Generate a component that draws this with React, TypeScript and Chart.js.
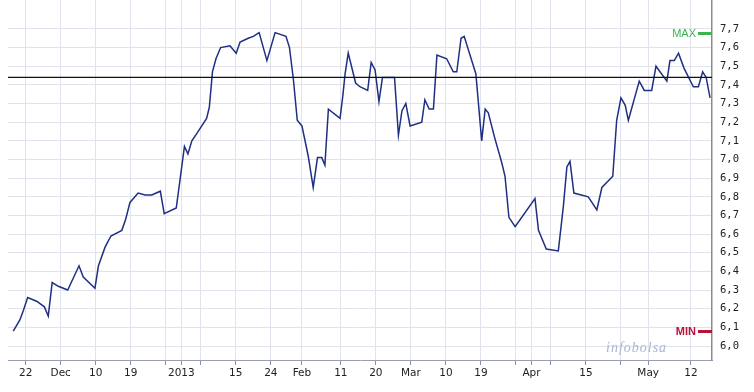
import React, { useEffect, useRef } from 'react';
import { Chart, registerables } from 'chart.js';

Chart.register(...registerables);

// Day offsets counted from 22 Nov 2012 (day 0)
const DAYS = [
  -3.2, -1.5, -0.6, 0.5, 2.8, 4.8, 5.8, 6.8, 8.4, 10.8, 13.7, 14.8, 17.8, 18.7, 20.4, 21.9,
  24.7, 25.7, 26.8, 28.9, 30.7, 32.4, 34.6, 35.6, 38.7, 40.8, 41.7, 42.7, 44.0, 46.5, 47.2,
  48.0, 48.9, 50.1, 52.5, 54.1, 55.1, 57.2, 58.5, 60.0, 62.0, 64.1, 66.9, 67.8, 68.8, 69.8,
  71.0, 72.6, 73.9, 75.0, 76.1, 76.9, 77.8, 80.8, 81.5, 82.1, 82.9, 84.8, 85.9, 87.9, 88.8,
  89.8, 90.8, 91.7, 93.6, 94.8, 95.8, 96.7, 97.7, 98.8, 101.8, 102.6, 103.7, 104.8, 105.7,
  108.2, 109.9, 110.8, 111.9, 112.7, 115.7, 116.5, 117.2, 118.1, 118.9, 120.5, 122.4, 123.2,
  124.2, 125.8, 130.9, 131.8, 133.8, 136.9, 138.2, 139.1, 139.9, 140.9, 144.6, 146.8, 148.1,
  150.9, 151.9, 153.0, 154.1, 154.9, 157.7, 159.0, 160.9, 162.0, 164.8, 165.6, 166.7, 167.8,
  169.2, 171.6, 172.9, 174.0, 174.9, 175.9,
];

const PRICES = [
  6.08, 6.14, 6.19, 6.26, 6.24, 6.21, 6.16, 6.34, 6.32, 6.30, 6.43, 6.37, 6.31, 6.43, 6.53, 6.59,
  6.62, 6.68, 6.77, 6.82, 6.81, 6.81, 6.83, 6.71, 6.74, 7.07, 7.03, 7.10, 7.14, 7.22, 7.28,
  7.47, 7.54, 7.60, 7.61, 7.57, 7.63, 7.65, 7.66, 7.68, 7.53, 7.68, 7.66, 7.60, 7.43, 7.21,
  7.18, 7.02, 6.85, 7.01, 7.01, 6.97, 7.27, 7.22, 7.34, 7.46, 7.57, 7.41, 7.39, 7.37, 7.52,
  7.48, 7.31, 7.44, 7.44, 7.44, 7.13, 7.26, 7.30, 7.18, 7.20, 7.32, 7.27, 7.27, 7.56,
  7.54, 7.47, 7.47, 7.65, 7.66, 7.46, 7.27, 7.10, 7.27, 7.25, 7.12, 6.98, 6.91,
  6.69, 6.64, 6.79, 6.62, 6.52, 6.51, 6.75, 6.96, 6.99, 6.82, 6.80, 6.73, 6.85,
  6.91, 7.21, 7.33, 7.29, 7.21, 7.42, 7.37, 7.37, 7.50, 7.42, 7.53, 7.53, 7.57,
  7.49, 7.39, 7.39, 7.47, 7.44, 7.33,
];

const X_TICK_DAYS = [0, 9, 18, 27, 36, 40, 45, 54, 63, 71, 81, 90, 99, 108, 117, 126, 130, 135, 144, 153, 160, 171];
const X_TICK_LABELS = ['22', 'Dec', '10', '19', '', '2013', '', '15', '24', 'Feb', '11', '20', 'Mar', '10', '19', '', 'Apr', '', '15', '', 'May', '12'];

const Y_TICKS = [6.0, 6.1, 6.2, 6.3, 6.4, 6.5, 6.6, 6.7, 6.8, 6.9, 7.0, 7.1, 7.2, 7.3, 7.4, 7.5, 7.6, 7.7];

const REF_LEVEL = 7.44;

const X_MIN = -4.55;
const X_MAX = 176.4;
const Y_MIN = 5.925;
const Y_MAX = 7.855;

export default function App() {
  const ref = useRef<HTMLCanvasElement>(null);

  useEffect(() => {
    const canvas = ref.current!;
    const maxVal = Math.max(...PRICES);
    const minVal = Math.min(...PRICES);

    const decorations = {
      id: 'decorations',
      beforeDatasetsDraw(chart: any) {
        const ctx = chart.ctx;
        const y = chart.scales.y;
        const area = chart.chartArea;
        ctx.save();
        ctx.font = 'italic 14px "Liberation Serif", serif';
        try { (ctx as any).letterSpacing = '1px'; } catch (e) {}
        ctx.fillStyle = '#aab5cf';
        ctx.textAlign = 'left';
        ctx.textBaseline = 'middle';
        ctx.fillText('infobolsa', area.right - 106, y.getPixelForValue(5.99));
        ctx.restore();
      },
      afterDatasetsDraw(chart: any) {
        const ctx = chart.ctx;
        const y = chart.scales.y;
        const area = chart.chartArea;
        ctx.save();
        const drawMarker = (val: number, label: string, color: string, font: string) => {
          const py = Math.round(y.getPixelForValue(val));
          ctx.fillStyle = color;
          ctx.fillRect(area.right - 14, py - 1, 14, 3);
          ctx.font = font;
          ctx.textAlign = 'right';
          ctx.textBaseline = 'middle';
          ctx.fillText(label, area.right - 16, py + 1);
        };
        drawMarker(maxVal, 'MAX', '#3cb550', '11px "Liberation Sans", Arial, sans-serif');
        drawMarker(minVal, 'MIN', '#b8133a', 'bold 11px "Liberation Sans", Arial, sans-serif');
        ctx.restore();
      },
    };

    const chart = new Chart(canvas, {
      type: 'line',
      data: {
        datasets: [
          {
            data: [
              { x: X_MIN, y: REF_LEVEL },
              { x: X_MAX, y: REF_LEVEL },
            ],
            borderColor: '#111111',
            borderWidth: 1.3,
            pointRadius: 0,
            order: 0,
          },
          {
            data: DAYS.map((d, i) => ({ x: d, y: PRICES[i] })),
            borderColor: '#1f2f82',
            borderWidth: 1.5,
            pointRadius: 0,
            tension: 0,
            order: 1,
          },
        ],
      },
      options: {
        animation: false,
        responsive: false,
        devicePixelRatio: 1,
        layout: { padding: { left: 8, top: 0, right: 0, bottom: 0 } },
        plugins: {
          legend: { display: false },
          tooltip: { enabled: false },
        },
        scales: {
          x: {
            type: 'linear',
            min: X_MIN,
            max: X_MAX,
            afterBuildTicks: (scale: any) => {
              scale.ticks = X_TICK_DAYS.map((v) => ({ value: v }));
            },
            afterFit: (scale: any) => {
              scale.height = 32;
              scale.paddingLeft = 0;
              scale.paddingRight = 0;
            },
            grid: {
              color: '#e1e3ec',
              tickColor: '#8a90a4',
              tickLength: 5,
              lineWidth: 1,
            },
            border: { display: true, color: '#9aa0b2', width: 1 },
            ticks: {
              autoSkip: false,
              maxRotation: 0,
              padding: 2,
              color: '#222222',
              font: { family: '"DejaVu Sans", Verdana, sans-serif', size: 10.5 },
              callback: (v: any) => {
                const i = X_TICK_DAYS.indexOf(Number(v));
                return i >= 0 ? X_TICK_LABELS[i] : '';
              },
            },
          },
          y: {
            type: 'linear',
            position: 'right',
            min: Y_MIN,
            max: Y_MAX,
            afterBuildTicks: (scale: any) => {
              scale.ticks = Y_TICKS.map((v) => ({ value: v }));
            },
            afterFit: (scale: any) => {
              scale.width = 42;
              scale.paddingTop = 0;
              scale.paddingBottom = 0;
            },
            grid: {
              color: '#e1e3ec',
              drawTicks: false,
              lineWidth: 1,
            },
            border: { display: true, color: '#8c8c8c', width: 1.5 },
            ticks: {
              padding: 8,
              color: '#222222',
              font: { family: '"DejaVu Sans Mono", monospace', size: 10.5 },
              callback: (v: any) => Number(v).toFixed(1).replace('.', ','),
            },
          },
        },
      },
      plugins: [decorations],
    } as any);

    return () => chart.destroy();
  }, []);

  return (
    <div style={{ position: 'absolute', left: 0, top: 0, width: 754, height: 392, background: '#ffffff' }}>
      <canvas ref={ref} width={754} height={392} style={{ display: 'block' }} />
    </div>
  );
}
